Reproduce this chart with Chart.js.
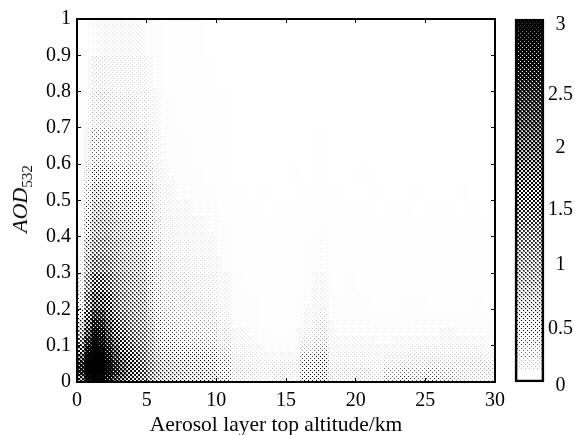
<!DOCTYPE html>
<html lang="en">

<head>
  <meta charset="UTF-8">
  <title>AOD density</title>
  <script src="https://cdn.jsdelivr.net/npm/chart.js"></script>
</head>

<style>
  body {
    margin: 0;
    background: #ffffff;
    width: 575px;
    height: 435px;
    overflow: hidden;
    position: relative;
  }

  canvas {
    position: absolute;
    top: 0;
  }

  .axis_title {
    position: absolute;
    font-family: "Liberation Serif";
    white-space: nowrap;
    color: #000000;
  }

  #y_title {
    left: 20px;
    top: 199px;
    transform: translate(-50%, -50%) rotate(-90deg);
    font-size: 22px;
  }

  #y_title sub {
    font-size: 15px;
    line-height: 0;
  }

  #x_title {
    left: 276px;
    top: 424px;
    transform: translate(-50%, -50%);
    font-size: 21.5px;
  }
</style>

<body>
  <canvas id="main_chart" width="510" height="435" style="left:0"></canvas>
  <canvas id="bar_chart" width="70" height="435" style="left:505px"></canvas>
  <div id="y_title" class="axis_title"><i>AOD</i><sub>532</sub></div>
  <div id="x_title" class="axis_title">Aerosol layer top altitude/km</div>
</body>

<script>
  // bin edges, finer where the plume is
  const xEdges = [0, 0.5, 1, 1.5, 2, 2.5, 3, 3.5, 4, 4.5, 5, 5.5, 6, 7, 8, 9, 10, 11, 12, 13, 14, 15, 16, 17, 18, 19, 20, 21, 22, 23, 24, 25, 26, 27, 28, 29, 30]
  const yEdges = [0, 0.02, 0.04, 0.06, 0.08, 0.1, 0.125, 0.15, 0.175, 0.2, 0.25, 0.3, 0.35, 0.4, 0.45, 0.5, 0.55, 0.6, 0.7, 0.8, 0.9, 1]

  // density, first row is the lowest AOD bin
  const density = [
    [1.8, 2.9, 3, 2.95, 2.6, 2.2, 1.85, 1.6, 1.4, 1.2, .95, .72, .6, .55, .52, .48, .3, .1, .08, .06, .1, .06, .38, .45, .1, .1, .12, .1, .22, .3, .25, .3, .22, .15, .12, .12],
    [2.5, 3, 3, 3, 2.85, 2.4, 2, 1.7, 1.46, 1.28, 1, .78, .62, .56, .52, .5, .32, .12, .1, .08, .1, .08, .36, .42, .1, .1, .12, .08, .18, .22, .2, .25, .2, .15, .14, .14],
    [2.4, 3, 3, 3, 2.85, 2.35, 1.95, 1.65, 1.42, 1.22, .96, .72, .58, .54, .48, .46, .3, .1, .08, .06, .08, .08, .34, .4, .08, .08, .08, .06, .1, .12, .14, .16, .14, .14, .14, .12],
    [2, 2.95, 3, 3, 2.7, 2.15, 1.75, 1.5, 1.32, 1.14, .86, .62, .52, .46, .42, .4, .25, .08, .06, .05, .05, .05, .28, .36, .06, .06, .06, .05, .07, .07, .1, .1, .08, .1, .1, .08],
    [1.6, 2.75, 3, 2.95, 2.5, 2, 1.56, 1.38, 1.2, 1.06, .8, .55, .44, .38, .34, .32, .18, .06, .05, .03, .03, .03, .16, .24, .05, .05, .05, .04, .05, .05, .06, .06, .06, .06, .06, .05],
    [1.2, 2.4, 2.95, 2.8, 2.3, 1.8, 1.44, 1.26, 1.1, 1, .72, .48, .36, .3, .26, .23, .12, .05, .04, .02, .02, .02, .1, .16, .04, .04, .04, .03, .03, .04, .04, .04, .05, .05, .04, .04],
    [.9, 2, 2.8, 2.6, 2.1, 1.6, 1.32, 1.14, 1.02, .92, .66, .42, .3, .25, .21, .18, .1, .04, .03, .02, .01, .02, .07, .12, .03, .03, .03, .03, .03, .03, .03, .03, .04, .03, .03, .03],
    [.65, 1.7, 2.5, 2.4, 1.9, 1.45, 1.2, 1.06, .94, .84, .6, .36, .25, .2, .16, .15, .08, .03, .02, .01, .01, .01, .05, .1, .03, .03, .03, .02, .02, .02, .03, .03, .03, .02, .02, .03],
    [.42, 1.45, 2.2, 2.1, 1.7, 1.26, 1.08, .96, .86, .78, .53, .31, .2, .16, .13, .12, .06, .02, .02, .01, .01, .01, .04, .08, .02, .02, .02, .02, .02, .02, .02, .02, .02, .02, .02, .02],
    [.25, 1.2, 1.8, 1.7, 1.45, 1.14, .96, .86, .8, .72, .48, .26, .16, .13, .1, .09, .05, .02, .02, .01, .01, .01, .03, .05, .02, .02, .02, .01, .01, .02, .02, .01, .01, .01, .02, .01],
    [.15, .9, 1.4, 1.35, 1.2, 1, .84, .77, .72, .65, .43, .22, .12, .1, .08, .07, .04, .02, .01, .01, .01, .01, .02, .04, .01, .02, .01, .01, .01, .01, .01, .01, .01, .01, .01, .01],
    [.08, .7, 1.1, 1.05, 1, .84, .72, .67, .62, .58, .38, .19, .1, .08, .06, .05, .03, .01, .01, .01, .01, .01, .02, .03, .01, .01, .01, .01, .01, .01, .01, .01, .01, .01, .01, .01],
    [.05, .55, .9, .9, .86, .72, .62, .6, .54, .5, .34, .17, .08, .06, .05, .04, .02, .01, .01, .01, .01, .01, .02, .03, .01, .01, .01, .01, .01, .01, .01, .01, .01, .01, .01, .01],
    [.02, .42, .75, .75, .74, .62, .55, .53, .48, .46, .29, .14, .06, .04, .04, .03, .02, .01, .01, .01, .01, .01, .01, .02, .01, .01, .01, .01, .01, .01, .01, .01, .01, .01, .01, .01],
    [0, .32, .62, .64, .62, .54, .5, .48, .42, .4, .24, .12, .05, .04, .03, .03, .01, .01, .01, 0, .01, .01, .01, .01, .01, .01, .01, 0, .01, .01, 0, .01, .01, 0, .01, 0],
    [0, .22, .5, .52, .48, .42, .4, .4, .36, .32, .2, .08, .04, .03, .02, .02, .01, .01, 0, .01, 0, 0, .01, .01, .01, 0, 0, .01, 0, 0, .01, 0, 0, .01, 0, 0],
    [0, .14, .38, .4, .36, .32, .3, .3, .26, .24, .14, .06, .03, .02, .02, .01, .01, 0, 0, 0, 0, .01, 0, .01, 0, 0, .01, 0, 0, 0, 0, 0, 0, 0, 0, 0],
    [0, .08, .24, .25, .22, .19, .18, .18, .16, .16, .1, .05, .02, .02, .01, .01, .01, 0, 0, 0, 0, 0, 0, .01, 0, 0, 0, 0, 0, 0, 0, 0, 0, 0, 0, 0],
    [0, .04, .13, .14, .12, .1, .1, .1, .09, .09, .06, .03, .02, .01, .01, .01, .01, 0, 0, 0, 0, 0, 0, 0, 0, 0, 0, 0, 0, 0, 0, 0, 0, 0, 0, 0],
    [0, .01, .08, .09, .08, .07, .07, .07, .06, .06, .04, .02, .01, .01, .01, .01, 0, 0, 0, 0, 0, 0, 0, 0, 0, 0, 0, 0, 0, 0, 0, 0, 0, 0, 0, 0],
    [0, 0, .04, .05, .05, .04, .05, .04, .04, .03, .02, .02, .01, .01, .01, 0, 0, 0, 0, 0, 0, 0, 0, 0, 0, 0, 0, 0, 0, 0, 0, 0, 0, 0, 0, 0]
  ]

  const colorbarLevels = [0, 0.1, 0.2, 0.3, 0.4, 0.5, 0.6, 0.7, 0.8, 0.9, 1, 1.1, 1.2, 1.3, 1.4, 1.5, 1.6, 1.7, 1.8, 1.9, 2, 2.1, 2.2, 2.3, 2.4, 2.5, 2.6, 2.7, 2.8, 2.9, 3]
  // the labels on the colorbar sit a little off their values in the picture
  const colorbarLabels = ['0', '0.5', '1', '1.5', '2', '2.5', '3']
  const colorbarLabelSpots = [-0.03, 0.44, 0.97, 1.42, 1.94, 2.37, 2.95]

  const serif = "Liberation Serif"
  const plotWidth = 418

  // halftone screen: 4x4 tile, ink fills ring by ring so faint values are faint dots
  const screenRings = [
    [0, 1, 2, 2],
    [1, 1, 2, 3],
    [2, 2, 0, 1],
    [2, 3, 1, 1]
  ]
  const ringStart = [0, 2 / 16, 8 / 16, 14 / 16]
  const ringSize = [2 / 16, 6 / 16, 6 / 16, 2 / 16]

  const patternCache = {}
  function halftone(ctx, value) {
    const key = value.toFixed(2)
    if (patternCache[key]) return patternCache[key]
    const cover = Math.min(value / 3, 1)
    const tile = document.createElement('canvas')
    tile.width = 4
    tile.height = 4
    const tileCtx = tile.getContext('2d')
    const img = tileCtx.createImageData(4, 4)
    for (let y = 0; y < 4; y++) {
      for (let x = 0; x < 4; x++) {
        const ring = screenRings[y][x]
        const ink = Math.max(0, Math.min(1, (cover - ringStart[ring]) / ringSize[ring]))
        const shade = Math.round(255 * (1 - ink))
        const at = (y * 4 + x) * 4
        img.data[at] = shade
        img.data[at + 1] = shade
        img.data[at + 2] = shade
        img.data[at + 3] = 255
      }
    }
    tileCtx.putImageData(img, 0, 0)
    patternCache[key] = ctx.createPattern(tile, 'repeat')
    return patternCache[key]
  }

  const mainCtx = document.getElementById('main_chart').getContext('2d')
  const barCtx = document.getElementById('bar_chart').getContext('2d')

  // one bar dataset per altitude bin, each row is a floating bar
  const columnSets = []
  for (let c = 0; c < xEdges.length - 1; c++) {
    const cells = []
    const fills = []
    for (let r = 0; r < yEdges.length - 1; r++) {
      cells.push({ x: (xEdges[c] + xEdges[c + 1]) / 2, y: [yEdges[r], yEdges[r + 1]] })
      fills.push(halftone(mainCtx, density[r][c]))
    }
    columnSets.push({
      data: cells,
      backgroundColor: fills,
      barThickness: (xEdges[c + 1] - xEdges[c]) * plotWidth / 30,
      borderWidth: 0,
      inflateAmount: 0.5,
      grouped: false
    })
  }

  function axisBits(tickLength) {
    return {
      border: { color: '#000000', width: 2, z: 1 },
      grid: { color: '#000000', lineWidth: 1, drawOnChartArea: false, tickLength: tickLength, offset: false, z: 1 }
    }
  }

  // labels must not push the plot area around
  function noPadding(s) {
    s.paddingLeft = 0
    s.paddingRight = 0
    s.paddingTop = 0
    s.paddingBottom = 0
  }

  new Chart(mainCtx, {
    type: 'bar',
    data: { datasets: columnSets },
    options: {
      responsive: false,
      animation: false,
      events: [],
      layout: { padding: 0 },
      plugins: { legend: { display: false }, tooltip: { enabled: false } },
      scales: {
        x: {
          type: 'linear', position: 'bottom', min: 0, max: 30, offset: false,
          ...axisBits(-4),
          ticks: { stepSize: 5, color: '#000000', font: { family: serif, size: 20 }, padding: 11, maxRotation: 0 },
          afterFit: s => { noPadding(s); s.height = 53 }
        },
        x2: {
          type: 'linear', position: 'top', min: 0, max: 30, offset: false,
          ...axisBits(-4),
          ticks: { display: false, stepSize: 5 },
          afterFit: s => { noPadding(s); s.height = 19 }
        },
        y: {
          type: 'linear', position: 'left', min: 0, max: 1,
          ...axisBits(-4),
          ticks: {
            stepSize: 0.1, color: '#000000', font: { family: serif, size: 20 }, padding: 10,
            callback: v => String(+v.toFixed(1))
          },
          afterFit: s => { noPadding(s); s.width = 77 }
        },
        y2: {
          type: 'linear', position: 'right', min: 0, max: 1,
          ...axisBits(-4),
          ticks: { display: false, stepSize: 0.1 },
          afterFit: s => { noPadding(s); s.width = 15 }
        }
      }
    }
  })

  const colorbarSets = [{
    data: [[0, 3]],
    backgroundColor: 'rgba(0,0,0,0)',
    borderColor: '#000000',
    borderWidth: 2,
    borderSkipped: false,
    grouped: false,
    clip: 4,
    barPercentage: 1,
    categoryPercentage: 1
  }]
  for (let i = 0; i < colorbarLevels.length - 1; i++) {
    colorbarSets.push({
      data: [[colorbarLevels[i], colorbarLevels[i + 1]]],
      backgroundColor: halftone(barCtx, colorbarLevels[i]),
      borderWidth: 0,
      inflateAmount: 0.5,
      grouped: false,
      barPercentage: 1,
      categoryPercentage: 1
    })
  }

  new Chart(barCtx, {
    type: 'bar',
    data: { labels: [''], datasets: colorbarSets },
    options: {
      responsive: false,
      animation: false,
      events: [],
      layout: { padding: { top: 19, bottom: 53, left: 10 } },
      plugins: { legend: { display: false }, tooltip: { enabled: false } },
      scales: {
        x: { display: false },
        y: {
          position: 'right', min: 0, max: 3,
          border: { display: false },
          grid: { display: false, drawTicks: false },
          afterBuildTicks: s => { s.ticks = colorbarLabelSpots.map(v => ({ value: v })) },
          ticks: {
            color: '#000000', font: { family: serif, size: 20 }, padding: 4, crossAlign: 'center',
            autoSkip: false, callback: (v, i) => colorbarLabels[i]
          },
          afterFit: s => { noPadding(s); s.width = 31 }
        }
      }
    }
  })
</script>

</html>
